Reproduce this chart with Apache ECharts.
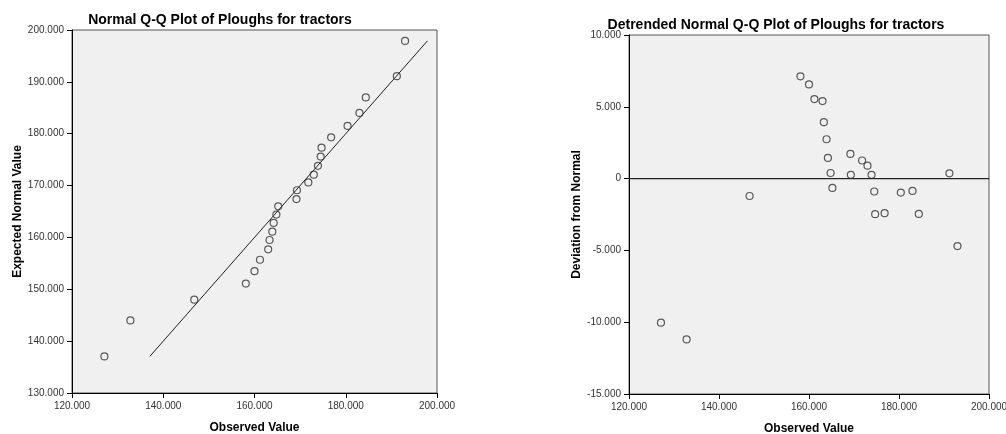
<!DOCTYPE html>
<html>
<head>
<meta charset="utf-8">
<script src="https://cdn.jsdelivr.net/npm/echarts@6/dist/echarts.min.js"></script>
<style>
    html, body { margin: 0; padding: 0; background: #fff; }
    #chart { width: 1006px; height: 434px; }
</style>
</head>
<body>
<div id="chart"></div>
<script>
// observed values (shared x for both plots)
const observed = [127.1, 132.8, 146.8, 158.1, 160.0, 161.2, 163.0, 163.3, 163.9, 164.2, 164.8, 165.2,
    169.2, 169.3, 171.8, 173.0, 173.9, 174.5, 174.7, 176.8, 180.4, 183.0, 184.4, 191.2, 193.0];
// expected normal values (left plot)
const expected = [137.06, 144.0, 148.0, 151.1, 153.5, 155.7, 157.7, 159.5, 161.1, 162.8, 164.4, 166.0,
    167.4, 169.1, 170.6, 172.1, 173.8, 175.6, 177.3, 179.3, 181.5, 184.0, 187.0, 191.1, 197.9];
// deviation from normal (right plot)
const deviation = [-10.03, -11.2, -1.21, 7.12, 6.56, 5.54, 5.40, 3.93, 2.74, 1.44, 0.39, -0.65,
    1.72, 0.26, 1.26, 0.90, 0.26, -0.90, -2.48, -2.41, -0.97, -0.86, -2.46, 0.37, -4.7];
// reference lines
const qqLine = [137.06, 197.9];
const zeroLine = [120, 200];

const chart = echarts.init(document.getElementById('chart'));

const fmt = v => v === 0 ? '0' : v.toFixed(3);
const font = 'Liberation Sans, Arial, sans-serif';

function xAxisFor(gridIndex) {
    return {
        gridIndex: gridIndex,
        type: 'value',
        min: 120, max: 200, interval: 20,
        name: 'Observed Value',
        nameLocation: 'middle',
        nameGap: 29,
        nameTextStyle: { fontFamily: font, fontWeight: 'bold', fontSize: 12, color: '#000' },
        axisLine: { onZero: false, lineStyle: { color: '#000', width: 1 } },
        axisTick: { length: 5, lineStyle: { color: '#000' } },
        axisLabel: { formatter: fmt, fontFamily: font, fontSize: 10, color: '#333', margin: 8 },
        splitLine: { show: false }
    };
}

function yAxisFor(gridIndex, min, max, interval, name, gap) {
    return {
        gridIndex: gridIndex,
        type: 'value',
        min: min, max: max, interval: interval,
        name: name,
        nameLocation: 'middle',
        nameGap: gap,
        nameTextStyle: { fontFamily: font, fontWeight: 'bold', fontSize: 12, color: '#000' },
        axisLine: { onZero: false, lineStyle: { color: '#000', width: 1 } },
        axisTick: { length: 5, lineStyle: { color: '#000' } },
        axisLabel: { formatter: fmt, fontFamily: font, fontSize: 10, color: '#333', margin: 8 },
        splitLine: { show: false }
    };
}

const pointStyle = {
    type: 'scatter',
    symbol: 'circle',
    symbolSize: 7,
    itemStyle: { color: 'rgba(0,0,0,0)', borderColor: '#333', borderWidth: 1.2 },
    z: 3
};

chart.setOption({
    animation: false,
    title: [
        {
            text: 'Normal Q-Q Plot of Ploughs for tractors',
            left: 215, top: 8, textAlign: 'center',
            textStyle: { fontFamily: font, fontWeight: 'bold', fontSize: 14, color: '#000' }
        },
        {
            text: 'Detrended Normal Q-Q Plot of Ploughs for tractors',
            left: 771, top: 13, textAlign: 'center',
            textStyle: { fontFamily: font, fontWeight: 'bold', fontSize: 14, color: '#000' }
        }
    ],
    grid: [
        { left: 72, top: 30, width: 365, height: 363, outerBoundsMode: 'none', containLabel: false,
          show: true, backgroundColor: '#f0f0f0', borderColor: '#555', borderWidth: 1 },
        { left: 629, top: 35, width: 360, height: 359, outerBoundsMode: 'none', containLabel: false,
          show: true, backgroundColor: '#f0f0f0', borderColor: '#555', borderWidth: 1 }
    ],
    xAxis: [xAxisFor(0), xAxisFor(1)],
    yAxis: [
        yAxisFor(0, 130, 200, 10, 'Expected Normal Value', 47),
        yAxisFor(1, -15, 10, 5, 'Deviation from Normal', 44)
    ],
    series: [
        {
            type: 'line',
            xAxisIndex: 0, yAxisIndex: 0,
            data: qqLine.map(v => [v, v]),
            symbol: 'none',
            lineStyle: { color: '#222', width: 1 },
            z: 2
        },
        Object.assign({}, pointStyle, {
            xAxisIndex: 0, yAxisIndex: 0,
            data: observed.map((x, i) => [x, expected[i]])
        }),
        {
            type: 'line',
            xAxisIndex: 1, yAxisIndex: 1,
            data: zeroLine.map(x => [x, 0]),
            symbol: 'none',
            lineStyle: { color: '#222', width: 1.2 },
            z: 2
        },
        Object.assign({}, pointStyle, {
            xAxisIndex: 1, yAxisIndex: 1,
            data: observed.map((x, i) => [x, deviation[i]])
        })
    ]
});
</script>
</body>
</html>
